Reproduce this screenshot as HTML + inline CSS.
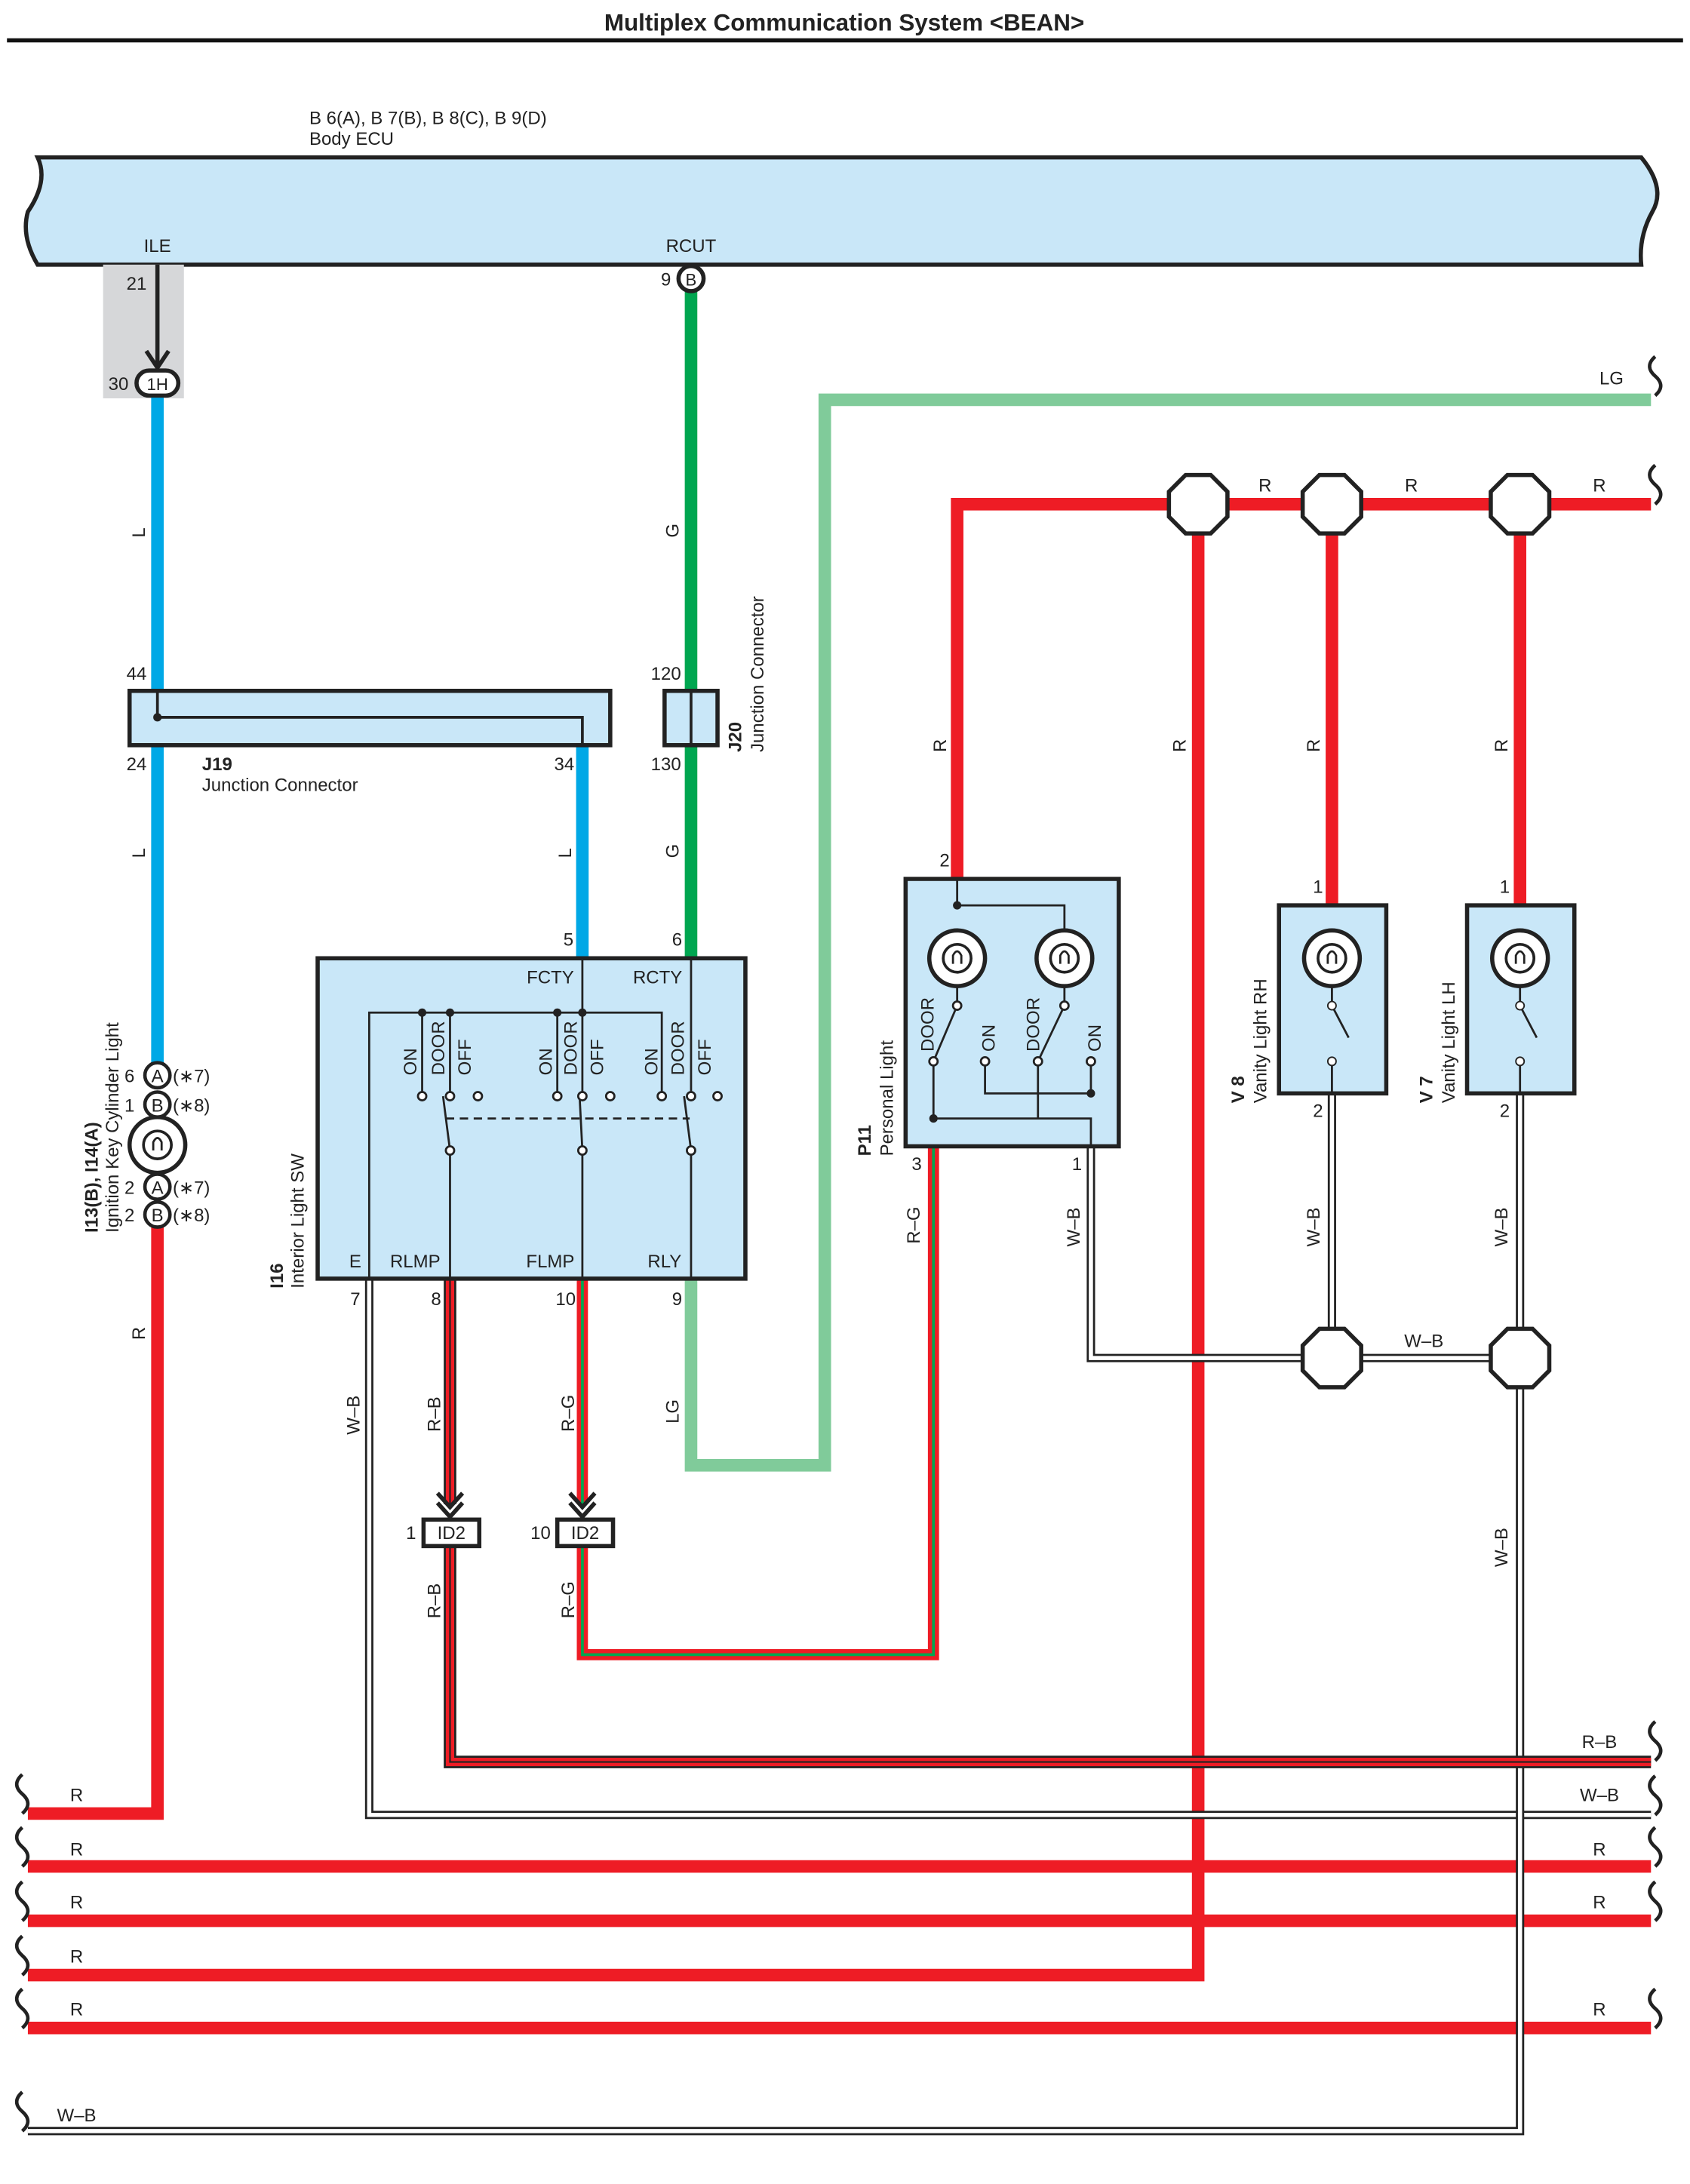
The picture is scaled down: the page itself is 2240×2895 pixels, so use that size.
<!DOCTYPE html>
<html><head><meta charset="utf-8"><style>
html,body{margin:0;padding:0;background:#fff}
svg{display:block}
text{font-family:"Liberation Sans",Arial,sans-serif;font-size:13px;fill:#222}
.b{font-weight:bold}
</style></head><body>
<svg width="2240" height="2895" viewBox="0 0 1213 1568" preserveAspectRatio="none" xmlns="http://www.w3.org/2000/svg">
<defs>
<g id="oct"><polygon points="-9,-21 9,-21 21,-9 21,9 9,21 -9,21 -21,9 -21,-9" fill="#fff" stroke="#222" stroke-width="3"/></g>
<g id="lamp"><circle r="20" fill="#fff" stroke="#222" stroke-width="3"/><circle r="10" fill="none" stroke="#222" stroke-width="2"/><path d="M-3,4 L-3,-2 Q0,-8 3,-2 L3,4" fill="none" stroke="#222" stroke-width="1.5"/></g>
<g id="wl"><path d="M0,-14 q-8,7 0,14 q8,7 0,14" fill="none" stroke="#222" stroke-width="2.5"/></g>
</defs>
<rect width="1213" height="1568" fill="#fff"/>
<text x="606" y="22" text-anchor="middle" class="b" style="font-size:17px">Multiplex Communication System &lt;BEAN&gt;</text>
<line x1="5" y1="29" x2="1208" y2="29" stroke="#111" stroke-width="3"/>
<text x="222" y="89">B 6(A), B 7(B), B 8(C), B 9(D)</text>
<text x="222" y="104">Body ECU</text>
<path d="M27,113 L1178,113 Q1196,135 1186,152 Q1176,170 1178,190 L27,190 Q15,170 20,152 Q35,130 27,113 Z" fill="#c9e7f8" stroke="#222" stroke-width="3"/>
<text x="113" y="181" text-anchor="middle">ILE</text>
<text x="496" y="181" text-anchor="middle">RCUT</text>
<rect x="74" y="190" width="58" height="96" fill="#d6d7d9"/>
<text x="98" y="208" text-anchor="middle">21</text>
<line x1="113" y1="190" x2="113" y2="262" stroke="#222" stroke-width="3"/>
<path d="M105,252 L113,264 L121,252" fill="none" stroke="#222" stroke-width="3"/>
<!-- LG wire -->
<path d="M496,918 L496,1052 L592,1052 L592,287 L1185,287" fill="none" stroke="#80cb9a" stroke-width="9"/>
<text x="1148" y="276">LG</text>
<!-- blue wires -->
<line x1="113" y1="285" x2="113" y2="765" stroke="#00a8e6" stroke-width="9"/>
<line x1="418" y1="535" x2="418" y2="688" stroke="#00a8e6" stroke-width="9"/>
<rect x="98" y="266" width="30" height="18" rx="9" fill="#fff" stroke="#222" stroke-width="3"/>
<text x="113" y="280" text-anchor="middle" style="font-size:12px">1H</text>
<text x="85" y="280" text-anchor="middle">30</text>
<!-- green wire -->
<line x1="496" y1="208" x2="496" y2="688" stroke="#00a650" stroke-width="9"/>
<circle cx="496" cy="200" r="9" fill="#fff" stroke="#222" stroke-width="3"/>
<text x="496" y="205" text-anchor="middle" style="font-size:12px">B</text>
<text x="478" y="205" text-anchor="middle">9</text>
<!-- J19 -->
<rect x="93" y="496" width="345" height="39" fill="#c9e7f8" stroke="#222" stroke-width="3"/>
<path d="M113,496 L113,515 L418,515 L418,535" fill="none" stroke="#222" stroke-width="2"/>
<circle cx="113" cy="515" r="3" fill="#222"/>
<text x="98" y="488" text-anchor="middle">44</text>
<text x="98" y="553" text-anchor="middle">24</text>
<text x="405" y="553" text-anchor="middle">34</text>
<text x="145" y="553" class="b">J19</text>
<text x="145" y="568">Junction Connector</text>
<!-- J20 -->
<rect x="477" y="496" width="38" height="39" fill="#c9e7f8" stroke="#222" stroke-width="3"/>
<line x1="496" y1="496" x2="496" y2="535" stroke="#222" stroke-width="2"/>
<text x="478" y="488" text-anchor="middle">120</text>
<text x="478" y="553" text-anchor="middle">130</text>
<text transform="translate(532,540) rotate(-90)" class="b">J20</text>
<text transform="translate(548,540) rotate(-90)">Junction Connector</text>
<!-- rotated wire labels -->
<g>
<text transform="translate(104,386) rotate(-90)">L</text>
<text transform="translate(104,616) rotate(-90)">L</text>
<text transform="translate(410,616) rotate(-90)">L</text>
<text transform="translate(487,386) rotate(-90)">G</text>
<text transform="translate(487,616) rotate(-90)">G</text>
<text transform="translate(104,962) rotate(-90)">R</text>
<text transform="translate(679,540) rotate(-90)">R</text>
<text transform="translate(851,540) rotate(-90)">R</text>
<text transform="translate(947,540) rotate(-90)">R</text>
<text transform="translate(1082,540) rotate(-90)">R</text>
<text transform="translate(660,893) rotate(-90)">R–G</text>
<text transform="translate(775,895) rotate(-90)">W–B</text>
<text transform="translate(947,895) rotate(-90)">W–B</text>
<text transform="translate(1082,895) rotate(-90)">W–B</text>
<text transform="translate(1082,1125) rotate(-90)">W–B</text>
<text transform="translate(258,1030) rotate(-90)">W–B</text>
<text transform="translate(316,1028) rotate(-90)">R–B</text>
<text transform="translate(412,1028) rotate(-90)">R–G</text>
<text transform="translate(487,1022) rotate(-90)">LG</text>
<text transform="translate(316,1162) rotate(-90)">R–B</text>
<text transform="translate(412,1162) rotate(-90)">R–G</text>
</g>
<!-- red wires -->
<g fill="none" stroke="#ee1c25" stroke-width="9">
<path d="M113,880 L113,1302 L20,1302"/>
<path d="M687,631 L687,362 L1185,362"/>
<path d="M860,362 L860,1418 L20,1418"/>
<line x1="956" y1="362" x2="956" y2="650"/>
<line x1="1091" y1="362" x2="1091" y2="650"/>
<line x1="20" y1="1340" x2="1185" y2="1340"/>
<line x1="20" y1="1379" x2="1185" y2="1379"/>
<line x1="20" y1="1456" x2="1185" y2="1456"/>
</g>
<use href="#oct" x="860" y="362"/><use href="#oct" x="956" y="362"/><use href="#oct" x="1091" y="362"/>
<text x="908" y="353" text-anchor="middle">R</text>
<text x="1013" y="353" text-anchor="middle">R</text>
<text x="1148" y="353" text-anchor="middle">R</text>
<!-- W-B wires -->
<g fill="none">
<path d="M265,918 L265,1303 L1185,1303" stroke="#222" stroke-width="6"/>
<path d="M265,918 L265,1303 L1185,1303" stroke="#fff" stroke-width="3"/>
<path d="M783,823 L783,975 L1091,975 M956,785 L956,975 M1091,785 L1091,1530 L20,1530" stroke="#222" stroke-width="6"/>
<path d="M783,823 L783,975 L1091,975 M956,785 L956,975 M1091,785 L1091,1530 L20,1530" stroke="#fff" stroke-width="3"/>
<!-- R-B -->
<path d="M323,918 L323,1080 M323,1110 L323,1265 L1185,1265" stroke="#222" stroke-width="9"/>
<path d="M323,918 L323,1080 M323,1110 L323,1265 L1185,1265" stroke="#ee1c25" stroke-width="6"/>
<path d="M323,918 L323,1080 M323,1110 L323,1265 L1185,1265" stroke="#222" stroke-width="1.2"/>
<!-- R-G -->
<path d="M418,918 L418,1080 M418,1110 L418,1188 L670,1188 L670,823" stroke="#ee1c25" stroke-width="8"/>
<path d="M418,918 L418,1080 M418,1110 L418,1188 L670,1188 L670,823" stroke="#00a650" stroke-width="2"/>
</g>
<use href="#oct" x="956" y="975"/><use href="#oct" x="1091" y="975"/>
<text x="1022" y="967" text-anchor="middle">W–B</text>
<text x="1148" y="1255" text-anchor="middle">R–B</text>
<text x="1148" y="1293" text-anchor="middle">W–B</text>
<text x="55" y="1293" text-anchor="middle">R</text>
<text x="55" y="1332" text-anchor="middle">R</text>
<text x="55" y="1370" text-anchor="middle">R</text>
<text x="55" y="1409" text-anchor="middle">R</text>
<text x="55" y="1447" text-anchor="middle">R</text>
<text x="1148" y="1332" text-anchor="middle">R</text>
<text x="1148" y="1370" text-anchor="middle">R</text>
<text x="1148" y="1447" text-anchor="middle">R</text>
<text x="55" y="1523" text-anchor="middle">W–B</text>
<!-- wavy ends -->
<use href="#wl" x="16" y="1288"/><use href="#wl" x="16" y="1326"/><use href="#wl" x="16" y="1365"/><use href="#wl" x="16" y="1404"/><use href="#wl" x="16" y="1442"/><use href="#wl" x="16" y="1516"/>
<use href="#wl" x="1188" y="1250"/><use href="#wl" x="1188" y="1289"/><use href="#wl" x="1188" y="1326"/><use href="#wl" x="1188" y="1365"/><use href="#wl" x="1188" y="1442"/>
<use href="#wl" x="1188" y="270"/><use href="#wl" x="1188" y="348"/>
<!-- ID2 connectors -->
<path d="M314,1072 L323,1082 L332,1072 M314,1079 L323,1089 L332,1079" fill="none" stroke="#222" stroke-width="3"/>
<path d="M409,1072 L418,1082 L427,1072 M409,1079 L418,1089 L427,1079" fill="none" stroke="#222" stroke-width="3"/>
<rect x="304" y="1091" width="40" height="19" fill="#fff" stroke="#222" stroke-width="3"/>
<rect x="400" y="1091" width="40" height="19" fill="#fff" stroke="#222" stroke-width="3"/>
<text x="324" y="1105" text-anchor="middle">ID2</text>
<text x="420" y="1105" text-anchor="middle">ID2</text>
<text x="295" y="1105" text-anchor="middle">1</text>
<text x="388" y="1105" text-anchor="middle">10</text>
<!-- I13 lamp -->
<use href="#lamp" x="113" y="822"/>
<g fill="#fff" stroke="#222" stroke-width="2.5">
<circle cx="113" cy="772" r="9"/><circle cx="113" cy="793" r="9"/><circle cx="113" cy="852" r="9"/><circle cx="113" cy="872" r="9"/>
</g>
<g style="font-size:12px" text-anchor="middle">
<text x="113" y="777">A</text><text x="113" y="798">B</text><text x="113" y="857">A</text><text x="113" y="877">B</text>
</g>
<text x="93" y="777" text-anchor="middle">6</text><text x="93" y="798" text-anchor="middle">1</text>
<text x="93" y="857" text-anchor="middle">2</text><text x="93" y="877" text-anchor="middle">2</text>
<text x="124" y="777">(∗7)</text><text x="124" y="798">(∗8)</text><text x="124" y="857">(∗7)</text><text x="124" y="877">(∗8)</text>
<text transform="translate(70,885) rotate(-90)" class="b">I13(B), I14(A)</text>
<text transform="translate(85,885) rotate(-90)">Ignition Key Cylinder Light</text>
<!-- I16 -->
<rect x="228" y="688" width="307" height="230" fill="#c9e7f8" stroke="#222" stroke-width="3"/>
<text x="395" y="706" text-anchor="middle">FCTY</text>
<text x="472" y="706" text-anchor="middle">RCTY</text>
<text x="255" y="910" text-anchor="middle">E</text>
<text x="298" y="910" text-anchor="middle">RLMP</text>
<text x="395" y="910" text-anchor="middle">FLMP</text>
<text x="477" y="910" text-anchor="middle">RLY</text>
<text x="408" y="679" text-anchor="middle">5</text>
<text x="486" y="679" text-anchor="middle">6</text>
<text x="255" y="937" text-anchor="middle">7</text>
<text x="313" y="937" text-anchor="middle">8</text>
<text x="406" y="937" text-anchor="middle">10</text>
<text x="486" y="937" text-anchor="middle">9</text>
<g fill="none" stroke="#222" stroke-width="1.5">
<path d="M265,918 L265,727 L475,727 L475,787"/>
<path d="M303,787 L303,727 M323,727 L323,787 M400,787 L400,727 M418,688 L418,787 M496,688 L496,787"/>
<path d="M323,826 L323,918 M418,826 L418,918 M496,826 L496,918"/>
<path d="M323,826 L318,787 M418,826 L416,787 M496,826 L491,787"/>
<line x1="320" y1="803" x2="495" y2="803" stroke-dasharray="6,4"/>
</g>
<g fill="#fff" stroke="#222" stroke-width="1.5">
<circle cx="303" cy="787" r="3"/><circle cx="323" cy="787" r="3"/><circle cx="343" cy="787" r="3"/>
<circle cx="400" cy="787" r="3"/><circle cx="418" cy="787" r="3"/><circle cx="438" cy="787" r="3"/>
<circle cx="475" cy="787" r="3"/><circle cx="496" cy="787" r="3"/><circle cx="515" cy="787" r="3"/>
<circle cx="323" cy="826" r="3"/><circle cx="418" cy="826" r="3"/><circle cx="496" cy="826" r="3"/>
</g>
<circle cx="303" cy="727" r="3" fill="#222"/><circle cx="323" cy="727" r="3" fill="#222"/><circle cx="400" cy="727" r="3" fill="#222"/><circle cx="418" cy="727" r="3" fill="#222"/>
<g>
<text transform="translate(299,772) rotate(-90)">ON</text>
<text transform="translate(319,772) rotate(-90)">DOOR</text>
<text transform="translate(338,772) rotate(-90)">OFF</text>
<text transform="translate(396,772) rotate(-90)">ON</text>
<text transform="translate(414,772) rotate(-90)">DOOR</text>
<text transform="translate(433,772) rotate(-90)">OFF</text>
<text transform="translate(472,772) rotate(-90)">ON</text>
<text transform="translate(491,772) rotate(-90)">DOOR</text>
<text transform="translate(510,772) rotate(-90)">OFF</text>
</g>
<text transform="translate(203,925) rotate(-90)" class="b">I16</text>
<text transform="translate(218,925) rotate(-90)">Interior Light SW</text>
<!-- P11 -->
<rect x="650" y="631" width="153" height="192" fill="#c9e7f8" stroke="#222" stroke-width="3"/>
<text x="678" y="622" text-anchor="middle">2</text>
<text x="658" y="840" text-anchor="middle">3</text>
<text x="773" y="840" text-anchor="middle">1</text>
<use href="#lamp" x="687" y="688"/><use href="#lamp" x="764" y="688"/>
<g fill="none" stroke="#222" stroke-width="1.5">
<path d="M687,631 L687,650 L764,650 L764,668"/>
<path d="M687,708 L687,722 L670,762 L670,803 L783,803 L783,823"/>
<path d="M764,708 L764,722 L745,762 L745,803"/>
<path d="M707,762 L707,785 L783,785 L783,762"/>
</g>
<g fill="#fff" stroke="#222" stroke-width="1.5">
<circle cx="687" cy="722" r="3"/><circle cx="670" cy="762" r="3"/><circle cx="707" cy="762" r="3"/>
<circle cx="764" cy="722" r="3"/><circle cx="745" cy="762" r="3"/><circle cx="783" cy="762" r="3"/>
</g>
<circle cx="687" cy="650" r="3" fill="#222"/><circle cx="670" cy="803" r="3" fill="#222"/><circle cx="783" cy="785" r="3" fill="#222"/>
<text transform="translate(670,755) rotate(-90)">DOOR</text>
<text transform="translate(714,755) rotate(-90)">ON</text>
<text transform="translate(746,755) rotate(-90)">DOOR</text>
<text transform="translate(790,755) rotate(-90)">ON</text>
<text transform="translate(625,830) rotate(-90)" class="b">P11</text>
<text transform="translate(641,830) rotate(-90)">Personal Light</text>
<!-- V8 -->
<rect x="918" y="650" width="77" height="135" fill="#c9e7f8" stroke="#222" stroke-width="3"/>
<use href="#lamp" x="956" y="688"/>
<g fill="none" stroke="#222" stroke-width="1.5"><path d="M956,708 L956,722 L968,745 M956,762 L956,785"/></g>
<circle cx="956" cy="722" r="3" fill="#fff" stroke="#222"/><circle cx="956" cy="762" r="3" fill="#fff" stroke="#222"/>
<text x="946" y="641" text-anchor="middle">1</text>
<text x="946" y="802" text-anchor="middle">2</text>
<text transform="translate(893,792) rotate(-90)" class="b">V 8</text>
<text transform="translate(909,792) rotate(-90)">Vanity Light RH</text>
<!-- V7 -->
<rect x="1053" y="650" width="77" height="135" fill="#c9e7f8" stroke="#222" stroke-width="3"/>
<use href="#lamp" x="1091" y="688"/>
<g fill="none" stroke="#222" stroke-width="1.5"><path d="M1091,708 L1091,722 L1103,745 M1091,762 L1091,785"/></g>
<circle cx="1091" cy="722" r="3" fill="#fff" stroke="#222"/><circle cx="1091" cy="762" r="3" fill="#fff" stroke="#222"/>
<text x="1080" y="641" text-anchor="middle">1</text>
<text x="1080" y="802" text-anchor="middle">2</text>
<text transform="translate(1028,792) rotate(-90)" class="b">V 7</text>
<text transform="translate(1044,792) rotate(-90)">Vanity Light LH</text>
</svg>
</body></html>
